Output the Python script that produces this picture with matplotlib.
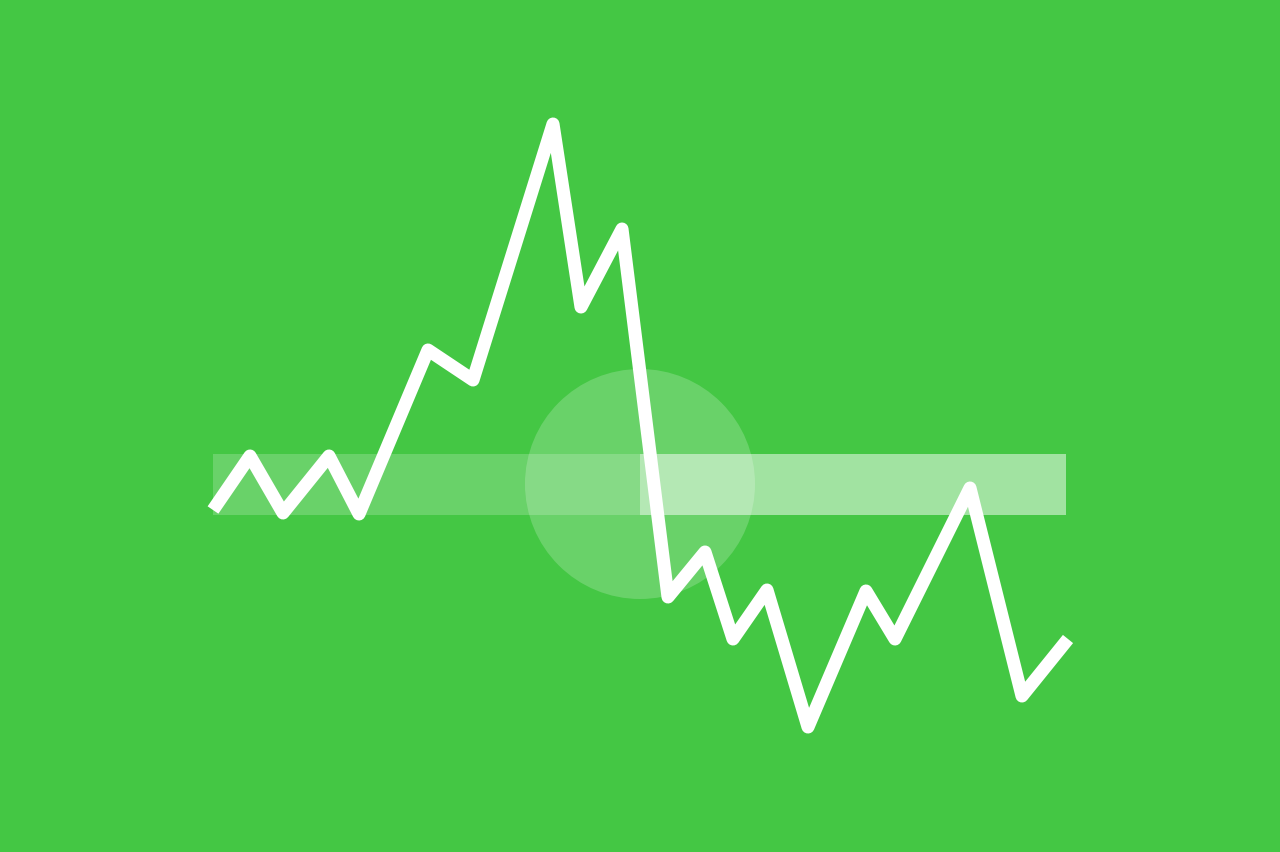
import matplotlib
matplotlib.use("Agg")
import matplotlib.pyplot as plt
from matplotlib.patches import Rectangle, Circle

# Line series (x, y in image-space units, y downward)
line_x = [213, 250, 283, 329, 359, 428, 473, 553, 581, 622, 668, 705, 733, 767, 808, 866, 895, 970, 1022, 1068]
line_y = [511, 457, 514, 457, 515, 351, 381, 125, 308, 230, 598, 553, 640, 591, 728, 592, 640, 489, 697, 640]

# Bands: (x_start, x_end, y_top, y_bottom, alpha)
band_left = (213, 640, 455, 516, 0.2)
band_right = (640, 1066, 455, 516, 0.5)
# Circle: (cx, cy, r, alpha)
circle = (640, 485, 115, 0.2)

BG = "#44C744"

fig = plt.figure(figsize=(12.8, 8.53), dpi=100)
fig.patch.set_facecolor(BG)
ax = fig.add_axes([0, 0, 1, 1])
ax.set_facecolor(BG)
ax.set_xlim(0, 1280)
ax.set_ylim(853, 0)
ax.axis("off")

ax.add_patch(Circle((circle[0], circle[1]), circle[2], facecolor="white", alpha=circle[3], edgecolor="none", zorder=1))
for b in (band_left, band_right):
    ax.add_patch(Rectangle((b[0], b[2]), b[1] - b[0], b[3] - b[2], facecolor="white", alpha=b[4], edgecolor="none", zorder=2))

ax.plot(line_x, line_y, color="white", linewidth=9.4, solid_joinstyle="round", solid_capstyle="butt", zorder=3)

fig.savefig("out.png", dpi=100, facecolor=BG)
